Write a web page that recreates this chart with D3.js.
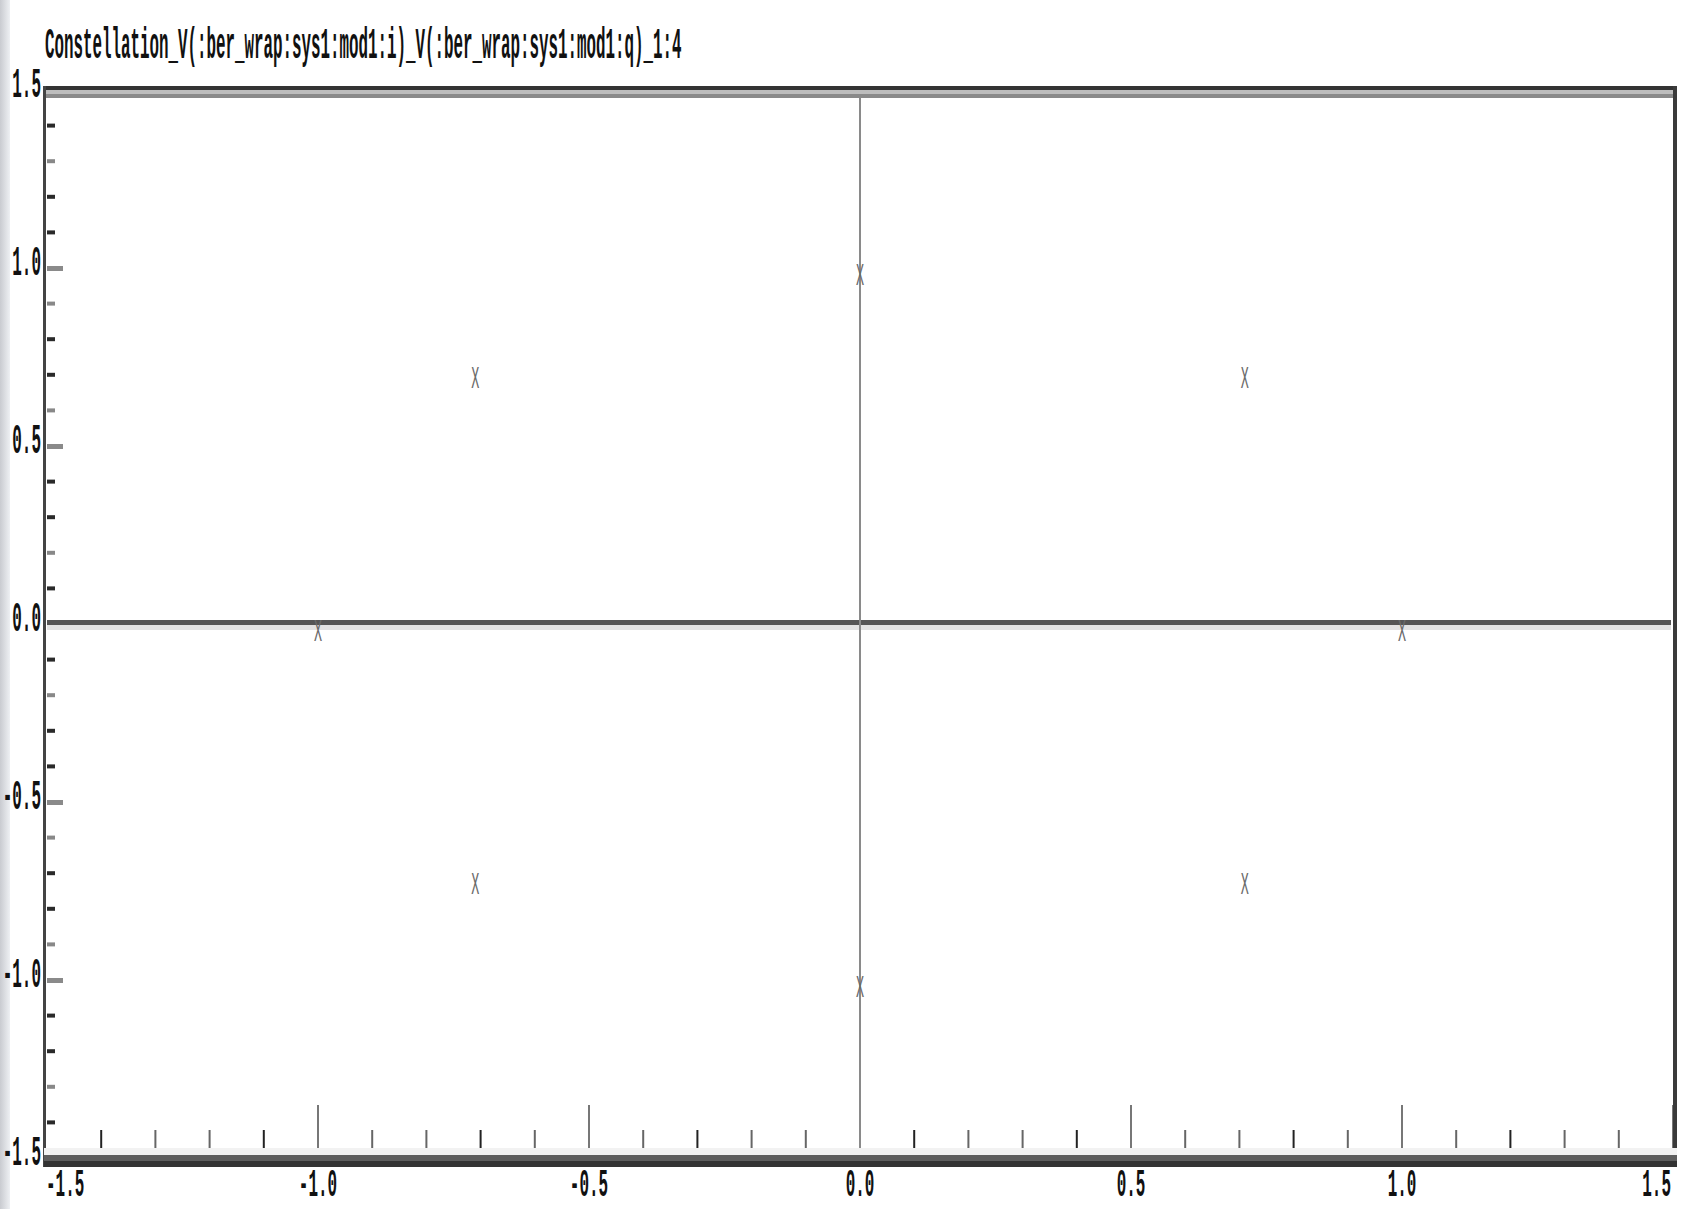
<!DOCTYPE html>
<html>
<head>
<meta charset="utf-8">
<script src="https://cdn.jsdelivr.net/npm/d3@7"></script>
<style>
  html, body { margin: 0; padding: 0; background: #ffffff; }
  svg { display: block; }
</style>
</head>
<body>
<svg id="chart" width="1692" height="1209"></svg>
<script>
// ---- data ----
const chartTitle = "Constellation_V(:ber_wrap:sys1:mod1:i)_V(:ber_wrap:sys1:mod1:q)_1:4";
const pointsI = [1.0, 0.71, 0.0, -0.71, -1.0, -0.71, 0.0, 0.71];
const pointsQ = [0.0, 0.71, 1.0, 0.71, 0.0, -0.71, -1.0, -0.71];
const xTickValues = [-1.5, -1.0, -0.5, 0.0, 0.5, 1.0, 1.5];
const xTickLabels = ["-1.5", "-1.0", "-0.5", "0.0", "0.5", "1.0", "1.5"];
const yTickValues = [-1.5, -1.0, -0.5, 0.0, 0.5, 1.0, 1.5];
const yTickLabels = ["-1.5", "-1.0", "-0.5", "0.0", "0.5", "1.0", "1.5"];
const minorStep = 0.1;

const svg = d3.select("#chart");
const FONT = "'Liberation Mono', 'DejaVu Sans Mono', monospace";

const x = d3.scaleLinear().domain([-1.5, 1.5]).range([47, 1673]);
const y = d3.scaleLinear().domain([-1.5, 1.5]).range([1158, 90]);

// left textured strip
const grad = svg.append("defs").append("linearGradient").attr("id", "lg")
  .attr("x1", "0").attr("x2", "1").attr("y1", "0").attr("y2", "0");
grad.append("stop").attr("offset", "0").attr("stop-color", "#c9cbd0");
grad.append("stop").attr("offset", "1").attr("stop-color", "#eef0f3");
svg.append("rect").attr("x", 0).attr("y", 0).attr("width", 10).attr("height", 1209).attr("fill", "url(#lg)");

const x0 = x(-1.5) - 3, x1 = x(1.5) + 4;

// top border bands
svg.append("rect").attr("x", x0).attr("y", y(1.5) - 4).attr("width", x1 - x0).attr("height", 4).attr("fill", "#333");
svg.append("rect").attr("x", x0 + 2).attr("y", y(1.5)).attr("width", x1 - x0 - 6).attr("height", 4).attr("fill", "#bdbdbd");
svg.append("rect").attr("x", x0 + 2).attr("y", y(1.5) + 4).attr("width", x1 - x0 - 6).attr("height", 4).attr("fill", "#8a8a8a");

// horizontal zero line
svg.append("rect").attr("x", x(-1.5)).attr("y", y(0) - 4).attr("width", x(1.5) - x(-1.5) - 2).attr("height", 5).attr("fill", "#555");
svg.append("rect").attr("x", x(-1.5)).attr("y", y(0) + 1).attr("width", x(1.5) - x(-1.5) - 2).attr("height", 5).attr("fill", "#e2e2e2");

// vertical zero line
svg.append("line").attr("x1", x(0)).attr("x2", x(0)).attr("y1", y(1.5) + 8).attr("y2", y(-1.5))
  .attr("stroke", "#8a8a8a").attr("stroke-width", 2);

// bottom ticks (upward)
const xMinor = d3.range(-14, 15).map(d => d * minorStep).filter(v => Math.abs(Math.round(v * 10) % 5) !== 0);
const xMajor = xTickValues.filter(v => v !== 0 && v !== -1.5);
const bottomY = y(-1.5) - 3;
svg.append("g").selectAll("line.xm").data(xMinor).join("line")
  .attr("x1", d => x(d)).attr("x2", d => x(d))
  .attr("y1", bottomY).attr("y2", bottomY - 25)
  .attr("stroke", (d, i) => i % 3 === 0 ? "#222" : "#666").attr("stroke-width", 2);
svg.append("g").selectAll("line.xM").data(xMajor).join("line")
  .attr("x1", d => x(d)).attr("x2", d => x(d))
  .attr("y1", bottomY).attr("y2", bottomY - 50)
  .attr("stroke", "#777").attr("stroke-width", 2);

// left ticks (rightward)
const yMinor = d3.range(-14, 15).map(d => d * minorStep).filter(v => Math.abs(Math.round(v * 10) % 5) !== 0);
const yMajor = yTickValues.filter(v => v !== 0 && Math.abs(v) !== 1.5);
svg.append("g").selectAll("rect.ym").data(yMinor).join("rect")
  .attr("x", x(-1.5)).attr("y", d => y(d) - 2).attr("width", 8).attr("height", 4)
  .attr("fill", (d, i) => i % 3 === 1 ? "#888" : "#2a2a2a");
svg.append("g").selectAll("rect.yM").data(yMajor).join("rect")
  .attr("x", x(-1.5)).attr("y", d => y(d) - 2).attr("width", 16).attr("height", 5)
  .attr("fill", "#8a8a8a");

// left axis line
svg.append("rect").attr("x", x(-1.5) - 4).attr("y", y(1.5) - 4).attr("width", 3).attr("height", y(-1.5) - y(1.5) + 13).attr("fill", "#444");
// right border
svg.append("rect").attr("x", x(1.5)).attr("y", y(1.5) - 4).attr("width", 4).attr("height", y(-1.5) - y(1.5) + 13).attr("fill", "#3a3a3a");

// bottom axis bands
svg.append("rect").attr("x", x0).attr("y", bottomY - 7).attr("width", x1 - x0).attr("height", 7).attr("fill", "#f2f2f2");
svg.append("rect").attr("x", x0).attr("y", bottomY).attr("width", x1 - x0).attr("height", 6).attr("fill", "#5e5e5e");
svg.append("rect").attr("x", x0).attr("y", bottomY + 6).attr("width", x1 - x0).attr("height", 6).attr("fill", "#333");

// helper for condensed text
function ctext(str, tx, ty, anchor, size, sx, fill) {
  svg.append("text")
    .attr("transform", `translate(${tx},${ty}) scale(${sx},1)`)
    .attr("text-anchor", anchor)
    .attr("font-family", FONT).attr("font-size", size).attr("font-weight", "bold")
    .attr("fill", fill || "#111")
    .text(str);
}

// title
ctext(chartTitle, 45, 58, "start", 44, 0.36);

// x labels
xTickValues.forEach((v, i) => {
  let anchor = "middle", tx = x(v);
  if (i === 0) { anchor = "start"; tx = x(v) - 1; }
  if (i === xTickValues.length - 1) { anchor = "end"; tx = x(v) - 2; }
  ctext(xTickLabels[i], tx, 1196, anchor, 38, 0.42);
});

// y labels
yTickValues.forEach((v, i) => {
  ctext(yTickLabels[i], 41, y(v) + 7, "end", 42, 0.38);
});

// constellation markers
svg.append("g").selectAll("text.pt").data(pointsI.map((d, i) => [d, pointsQ[i]])).join("text")
  .attr("transform", d => `translate(${x(d[0])},${y(d[1]) + 17}) scale(0.42,1)`)
  .attr("text-anchor", "middle")
  .attr("font-family", FONT).attr("font-size", 32)
  .attr("fill", "#6a6a6a")
  .text("X");
</script>
</body>
</html>
